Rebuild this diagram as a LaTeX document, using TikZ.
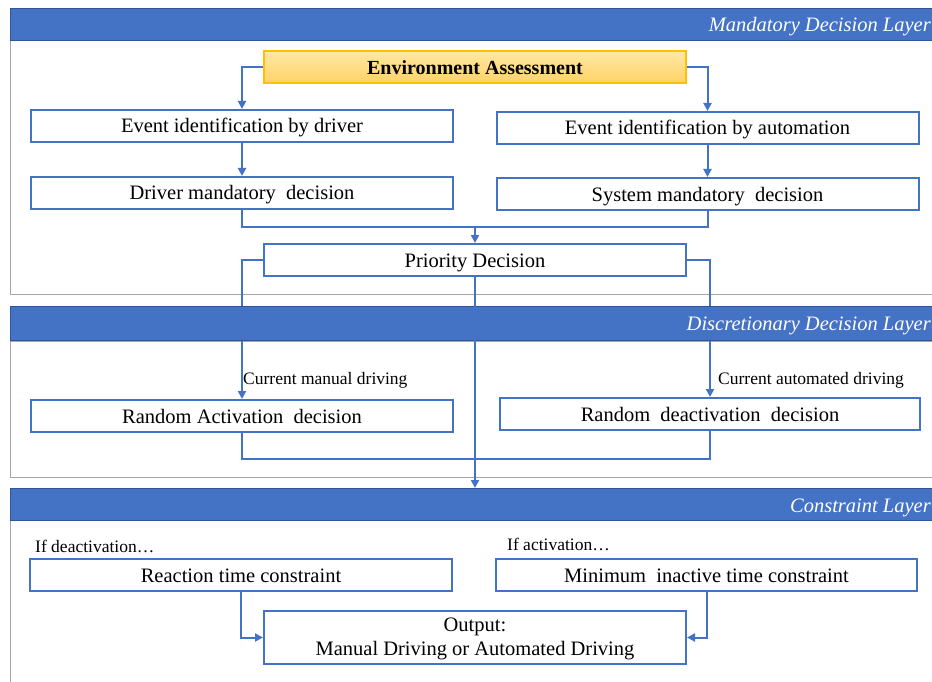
\documentclass[tikz,border=0pt]{standalone}
\usepackage{fontspec}
\setmainfont{Liberation Serif}
\usetikzlibrary{arrows.meta}
\definecolor{bandblue}{HTML}{4472C4}
\definecolor{banddark}{HTML}{2F5597}
\definecolor{lineblue}{HTML}{4472C4}
\definecolor{framegray}{HTML}{A6A6A6}
\definecolor{goldtop}{HTML}{FFE8A3}
\definecolor{goldbot}{HTML}{FFD265}
\definecolor{goldborder}{HTML}{FFC000}
\tikzset{
  band/.style={draw=banddark, line width=0.8pt, fill=bandblue, rectangle, inner sep=0pt, minimum width=922pt, minimum height=32pt, anchor=north west},
  bandtext/.style={text=white, font=\fontsize{20.5}{24}\selectfont\itshape, anchor=east, inner sep=0pt},
  frame/.style={draw=framegray, line width=1pt, fill=white, rectangle, inner sep=0pt, anchor=north west},
  boxbase/.style={draw=lineblue, line width=2pt, fill=white, rectangle, inner sep=0pt, minimum width=422pt, minimum height=32pt, font=\fontsize{20.5}{24}\selectfont, align=center},
  box/.style={boxbase, text height=16pt, text depth=2pt},
  envbox/.style={box, draw=goldborder, top color=goldtop, bottom color=goldbot, font=\fontsize{20}{24}\selectfont\bfseries},
  lbl/.style={font=\fontsize{17.5}{20}\selectfont, anchor=west, inner sep=0pt},
  conn/.style={draw=lineblue, line width=2pt},
  arr/.style={conn, -{Triangle[length=8pt,width=8pt]}}
}
\begin{document}
\begin{tikzpicture}[x=1pt,y=-1pt]
\useasboundingbox (0,0) rectangle (932,682);
% layer frames
\node[frame, minimum width=922pt, minimum height=254pt] (f1) at (10,40) {};
\node[frame, minimum width=922pt, minimum height=136pt] (f2) at (10,341) {};
\node[frame, minimum width=922pt, minimum height=170pt] (f3) at (10,520) {};
% boxes
\node[envbox] (env) at (475,67.5) {Environment Assessment};
\node[box] (drv) at (242,126) {Event identification by driver};
\node[box] (aut) at (707.5,128) {Event identification by automation};
\node[box] (dmd) at (242,193) {Driver mandatory\ \ decision};
\node[box] (smd) at (707.5,194) {System mandatory\ \ decision};
\node[box] (pri) at (475,260) {Priority Decision};
\node[box] (rad) at (242,416) {Random Activation\ \ decision};
\node[box, minimum width=420pt] (rdd) at (710,414) {Random\ \ deactivation\ \ decision};
\node[box] (rtc) at (241,575) {Reaction time constraint};
\node[box, minimum width=421pt] (mit) at (706.5,575) {Minimum\ \ inactive time constraint};
\node[boxbase, minimum height=53pt, font=\fontsize{20.5}{24}\selectfont] (out) at (475,637.5) {\rule{0pt}{17pt}Output:\\Manual Driving or Automated Driving};
% labels
\node[lbl] (l1) at (243,380) {Current manual driving};
\node[lbl] (l2) at (718,380) {Current automated driving};
\node[lbl] (l3) at (35,546) {If deactivation\dots};
\node[lbl] (l4) at (507,544) {If activation\dots};
% helper coordinates
\coordinate (m1) at (475,227);
\coordinate (m2) at (475,459);
% connectors
\draw[arr] (env.west) -| (drv.north);
\draw[arr] (env.east) -| (aut.north);
\draw[arr] (drv.south) -- (dmd.north);
\draw[arr] (aut.south) -- (smd.north);
\draw[conn] (dmd.south) |- (m1) -| (smd.south);
\draw[arr] (m1) -- (pri.north);
\draw[arr] (pri.west) -| (rad.north);
\draw[arr] (pri.east) -| (rdd.north);
\draw[conn] (rad.south) |- (m2) -| (rdd.south);
% bands
\node[band] (b1) at (10,8) {};
\node[band, minimum height=34pt] (b2) at (10,306) {};
\node[band] (b3) at (10,488) {};
\draw[arr] (pri.south) -- (pri.south |- b3.north);
\node[bandtext] (t1) at (931,26.5) {Mandatory Decision Layer};
\node[bandtext] (t2) at (931,325.5) {Discretionary Decision Layer};
\node[bandtext] (t3) at (931,507.5) {Constraint Layer};
\draw[arr] (rtc.south) |- (out.west);
\draw[arr] (mit.south) |- (out.east);
\end{tikzpicture}
\end{document}
